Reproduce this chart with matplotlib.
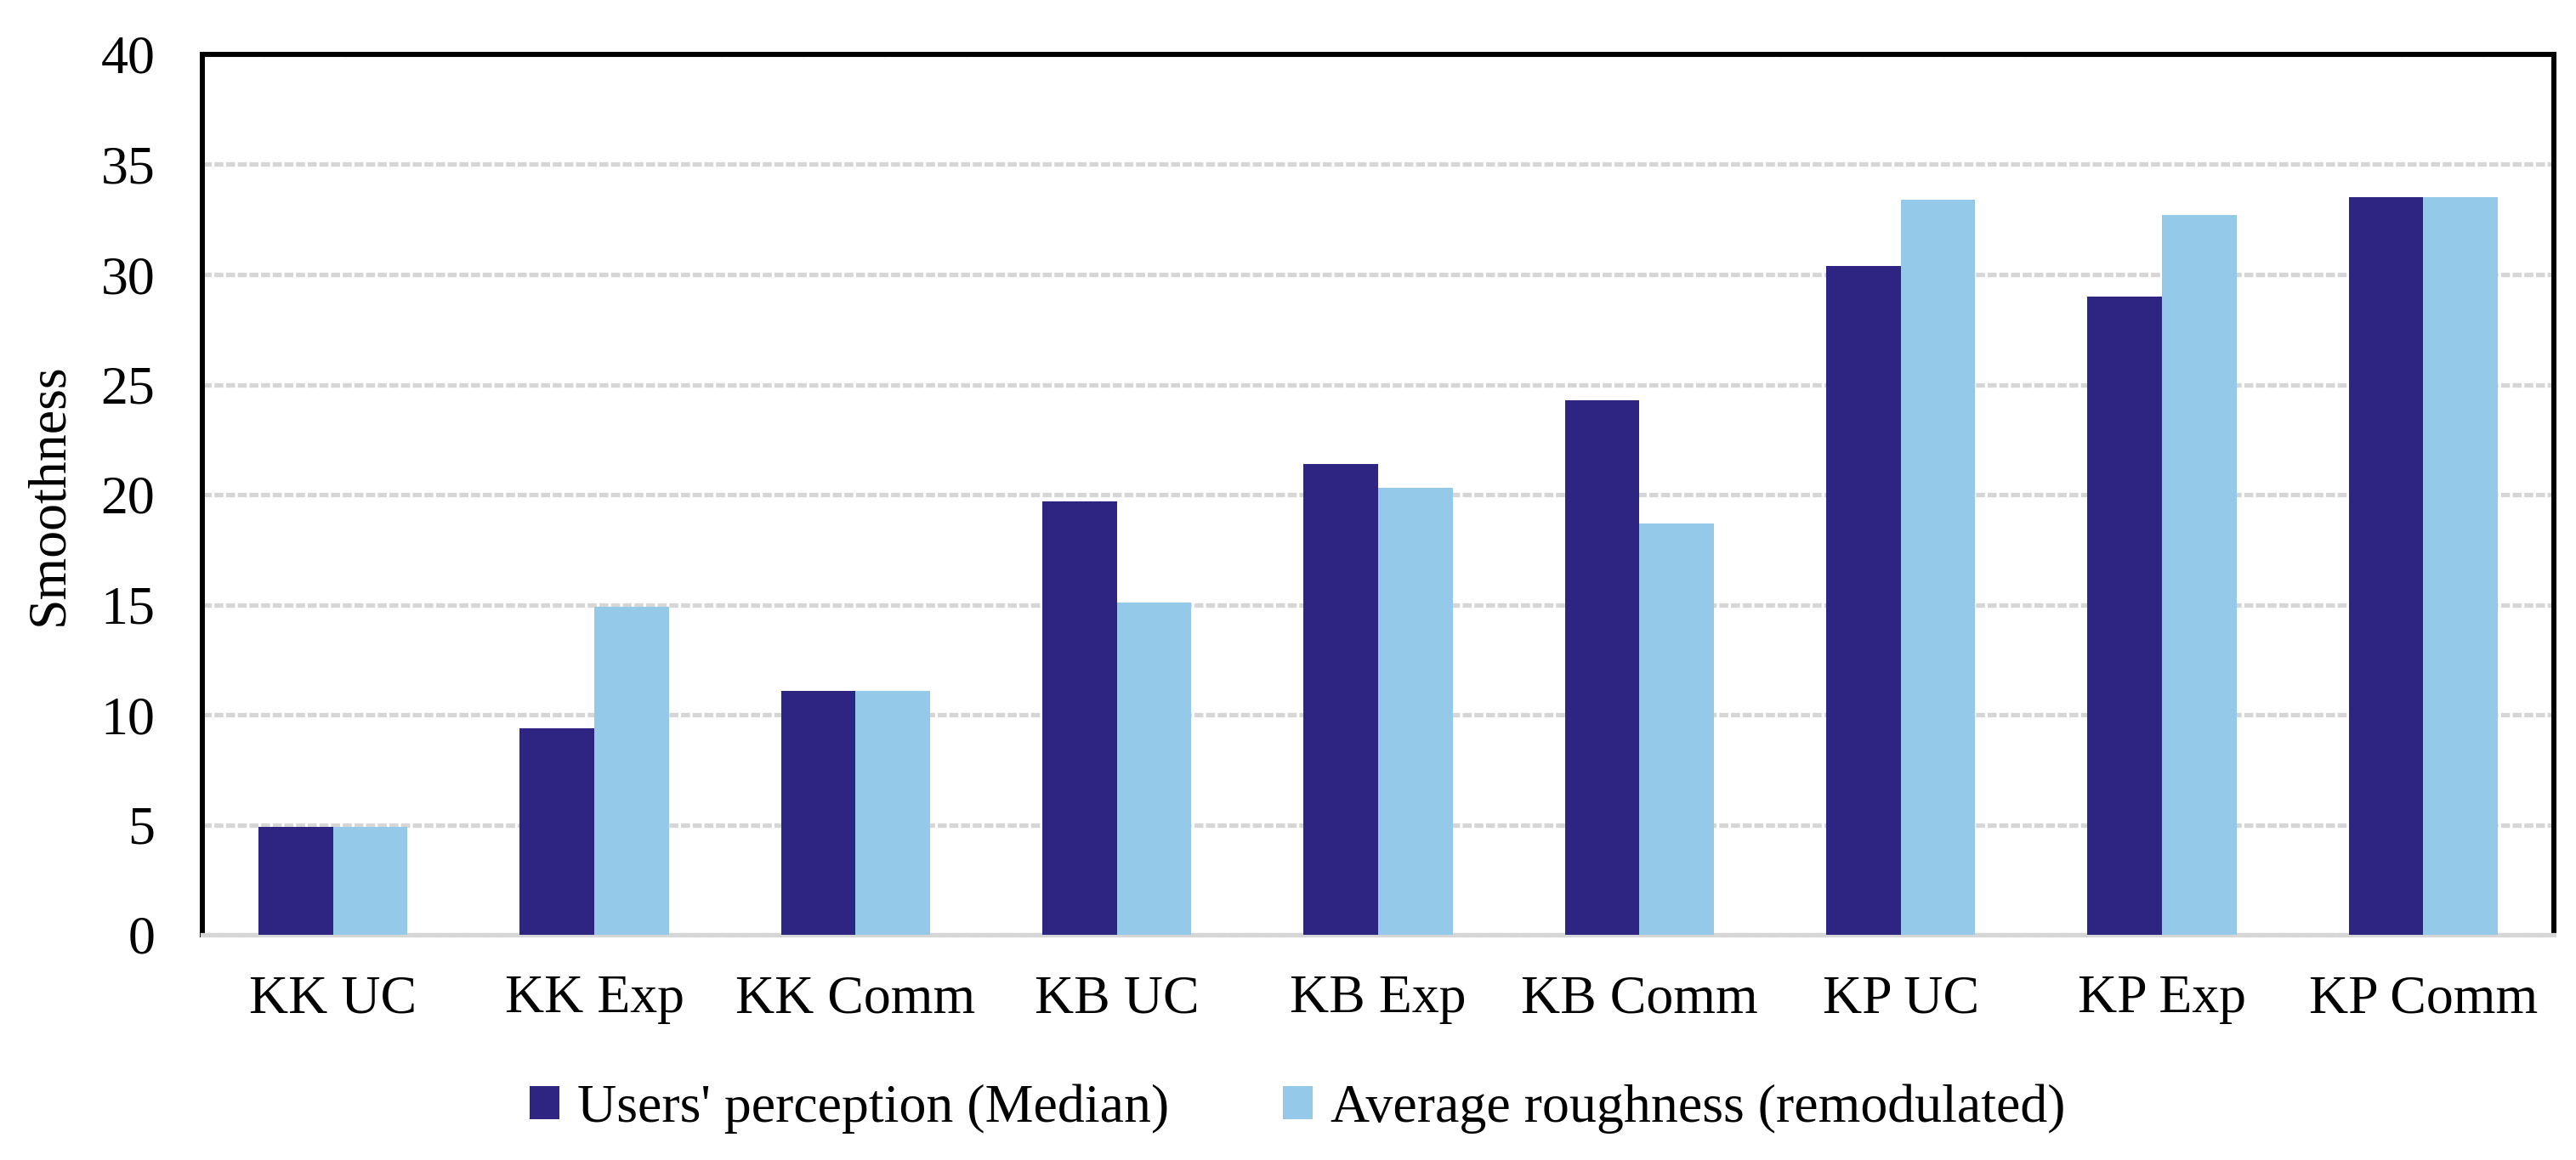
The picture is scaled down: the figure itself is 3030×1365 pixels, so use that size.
import matplotlib
matplotlib.use("Agg")
import matplotlib.pyplot as plt  # noqa: E402
import numpy as np  # noqa: E402

categories = ["KK UC", "KK Exp", "KK Comm", "KB UC", "KB Exp", "KB Comm",
              "KP UC", "KP Exp", "KP Comm"]
users_median = [4.9, 9.4, 11.1, 19.7, 21.4, 24.3, 30.4, 29.0, 33.5]
avg_roughness = [4.9, 14.9, 11.1, 15.1, 20.3, 18.7, 33.4, 32.7, 33.5]
series_names = ["Users' perception (Median)", "Average roughness (remodulated)"]
yticks = [0, 5, 10, 15, 20, 25, 30, 35, 40]

DARK = "#2e2482"
LIGHT = "#95c9ea"
GRID = "#d6d6d6"
FS = 46

plt.rcParams["font.family"] = ["Liberation Serif", "DejaVu Serif"]

fig = plt.figure(figsize=(30.3, 13.65), dpi=100)
ax = fig.add_axes([238 / 3030, 1 - 1100 / 1365, (3004 - 238) / 3030, (1100 - 64) / 1365])

x = np.arange(len(categories))
w = 0.285
b1 = ax.bar(x - w / 2, users_median, w, color=DARK, label=series_names[0], zorder=3)
b2 = ax.bar(x + w / 2, avg_roughness, w, color=LIGHT, label=series_names[1], zorder=3)

ax.set_xlim(-0.5, len(categories) - 0.5)
ax.set_ylim(0, 40)
ax.set_yticks(yticks)
ax.set_yticklabels([str(t) for t in yticks])
ax.set_xticks(x)
ax.set_xticklabels(categories)
ax.tick_params(axis="both", length=0, labelsize=FS)
ax.tick_params(axis="y", pad=40)
ax.tick_params(axis="x", pad=34)

ax.yaxis.grid(True, color=GRID, linewidth=3.8, linestyle=(0, (2, 0.6)), zorder=0)
ax.set_axisbelow(True)

for side in ("top", "left", "right"):
    ax.spines[side].set_linewidth(4.3)
    ax.spines[side].set_color("black")
ax.spines["bottom"].set_color(GRID)
ax.spines["bottom"].set_linewidth(3.8)

fig.text(58 / 3030, 1 - 582 / 1365, "Smoothness", rotation=90,
         ha="center", va="center", fontsize=FS)

fig.legend(handles=[b1, b2], labels=series_names, loc="center",
           bbox_to_anchor=(1526 / 3030, 1 - 1305 / 1365), ncol=2,
           frameon=False, fontsize=FS, handlelength=0.55, handleheight=0.55,
           handletextpad=0.32, columnspacing=2.1, borderpad=0)

fig.savefig("out.png", dpi=100)
plt.close(fig)
